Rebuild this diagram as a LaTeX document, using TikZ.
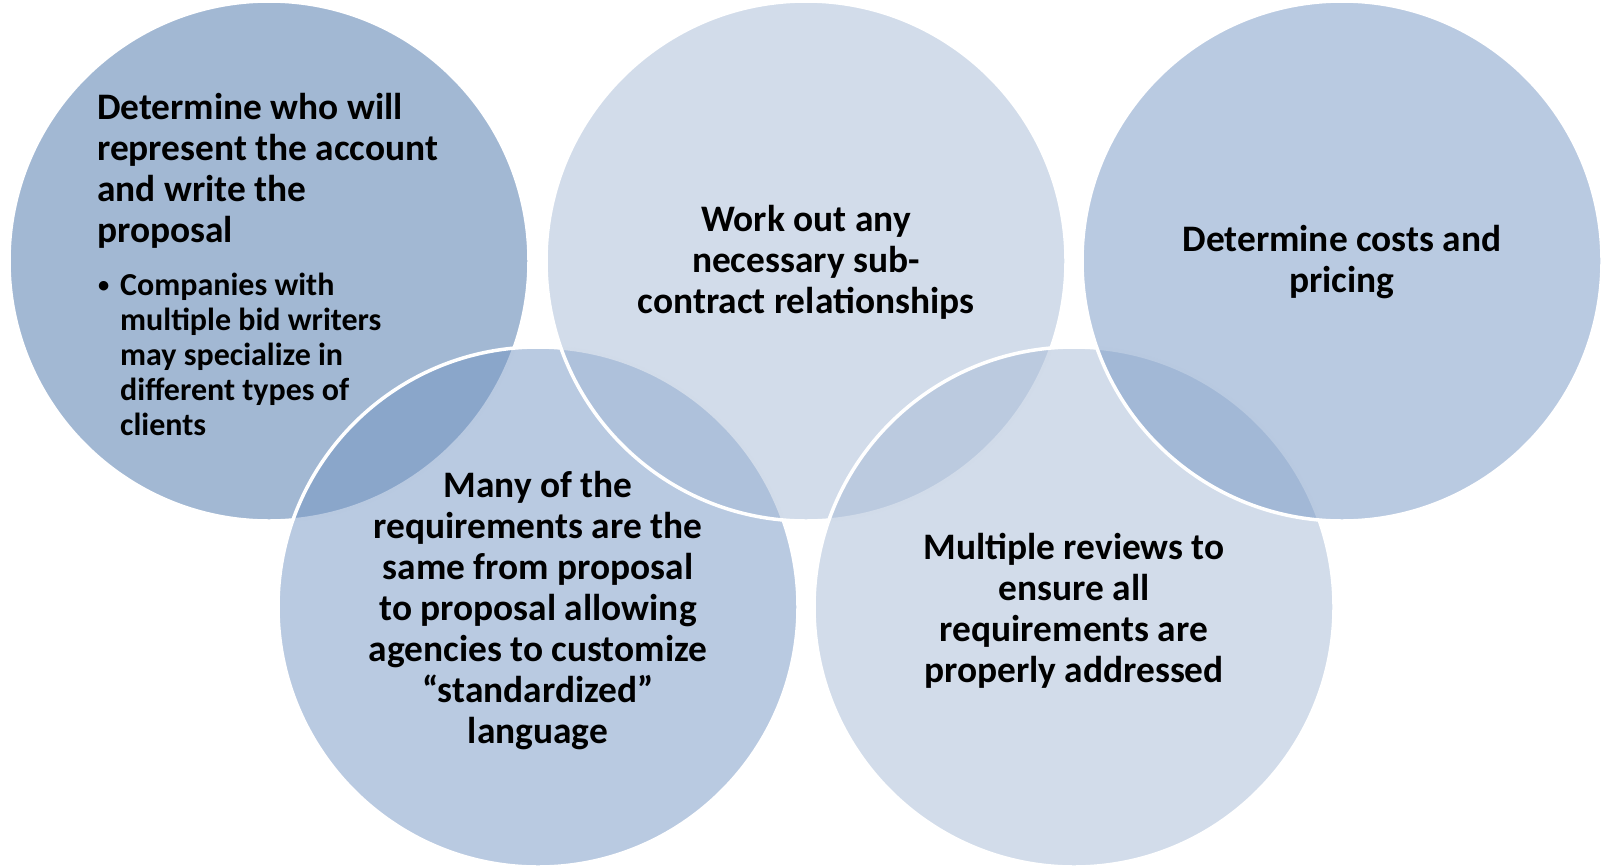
\documentclass[tikz,border=0pt]{standalone}
\usepackage{fontspec}
\setmainfont{Carlito}
\usepackage{xcolor}
\usepackage{graphicx}
\usetikzlibrary{positioning}

\definecolor{discdark}{RGB}{69,113,167}
\definecolor{discmid}{RGB}{115,149,195}
\definecolor{disclight}{RGB}{165,185,213}

\newcommand{\smallbullet}{\makebox[23pt][l]{\hspace{1pt}\raisebox{3pt}{\scalebox{0.7}{\textbullet}}}}

\begin{document}
\begin{tikzpicture}[x=1pt, y=-1pt]
\tikzstyle{disc} = [circle, minimum size=520pt, inner sep=0pt, draw=white, line width=3.5pt, fill opacity=0.5, draw opacity=1]
\tikzstyle{bigtext} = [inner sep=0pt, font=\fontsize{37.4}{41}\selectfont\bfseries, align=center]
\tikzstyle{smalltext} = [inner sep=0pt, font=\fontsize{32}{35}\selectfont\bfseries, align=left]

\useasboundingbox (0,0) rectangle (1603,865);

% circles, back to front
\node (account) [disc, fill=discdark] at (269,261) {};
\node (standard) [disc, fill=discmid] at (538,607) {};
\node (subcontract) [disc, fill=disclight] at (806,261) {};
\node (review) [disc, fill=disclight] at (1074,607) {};
\node (pricing) [disc, fill=discmid] at (1342,261) {};

% texts
\node (accounttext) [bigtext, align=left, anchor=north west] at (97,93) {Determine who will\\represent the account\\and write the\\proposal};
\node (bidtext) [smalltext, below=24pt of accounttext.south west, anchor=north west] {\smallbullet Companies with\\\hspace*{23pt}multiple bid writers\\\hspace*{23pt}may specialize in\\\hspace*{23pt}different types of\\\hspace*{23pt}clients};
\node (subcontracttext) [bigtext] at ([yshift=-1pt]subcontract.center) {Work out any\\necessary sub-\\contract relationships};
\node (pricingtext) [bigtext] at ([yshift=-1pt]pricing.center) {Determine costs and\\pricing};
\node (standardtext) [bigtext] at ([yshift=-3.5pt]standard.center) {Many of the\\requirements are the\\same from proposal\\to proposal allowing\\agencies to customize\\“standardized”\\language};
\node (reviewtext) [bigtext] at ([yshift=-3.5pt]review.center) {Multiple reviews to\\ensure all\\requirements are\\properly addressed};
\end{tikzpicture}
\end{document}
